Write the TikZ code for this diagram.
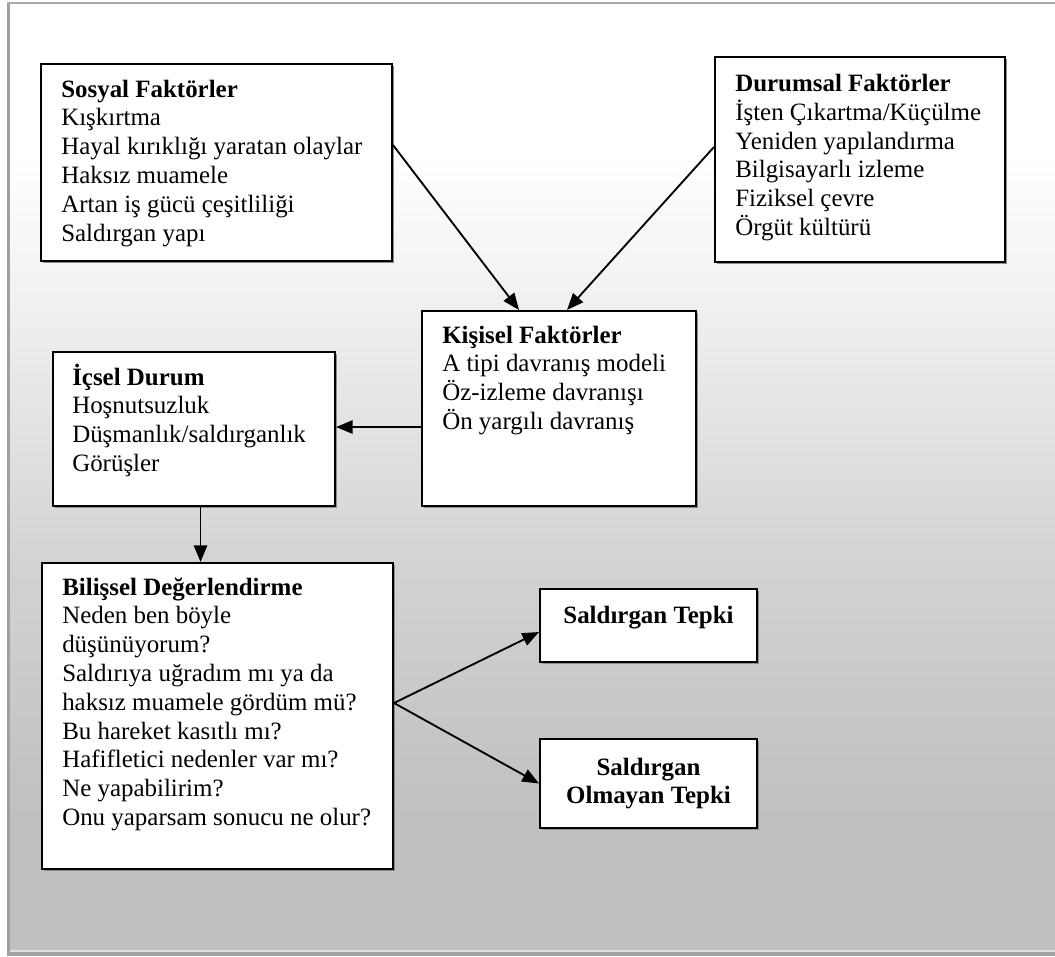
\documentclass[tikz,border=0pt]{standalone}
\usepackage{fontspec}
\setmainfont{Liberation Serif}
\usetikzlibrary{arrows.meta,fit,shadows}

\definecolor{bgA}{HTML}{F0F0F0}
\definecolor{bgB}{HTML}{D2D2D2}
\definecolor{bgC}{HTML}{C0C0C0}
\definecolor{frameGray}{HTML}{A0A0A0}

% vertical page shading: the path is mapped onto 25bp..75bp
\pgfdeclareverticalshading{pagebg}{100bp}{%
  color(0bp)=(bgC); color(25bp)=(bgC); color(32bp)=(bgC);
  color(45bp)=(bgB); color(59bp)=(bgA); color(67bp)=(white);
  color(75bp)=(white); color(100bp)=(white)}

\newcommand\lines[1]{\begin{tabular}[t]{@{}l@{}}#1\end{tabular}}
\newcommand\clines[1]{\begin{tabular}[t]{@{}c@{}}#1\end{tabular}}

\begin{document}
\begin{tikzpicture}[x=0.75pt,y=-0.75pt,
  box/.style={draw=black, line width=1.5pt, fill=white, inner sep=0pt,
    drop shadow={shadow xshift=1.5pt, shadow yshift=-1.5pt, fill=black!45, opacity=1}},
  arr/.style={-{Triangle[length=12.5pt,width=10pt]}, line width=1.4pt},
  lbl/.style={inner sep=0pt, anchor=base west, font=\fontsize{18.7}{21.6}\selectfont},
  clbl/.style={inner sep=0pt, anchor=base, font=\fontsize{18.7}{21.6}\selectfont\bfseries}]

\useasboundingbox (0,0) rectangle (1055,956);
\fill[white] (0,0) rectangle (1055,956);

% page background and frame
\shade[shading=pagebg] (10,4) rectangle (1055,950);
\fill[frameGray] (7,2) rectangle (10,952);
\fill[black!33] (7,2) rectangle (1055,4);
\fill[black!12] (10,950) rectangle (1055,951.5);
\fill[frameGray] (7,952) rectangle (1055,956);

% boxes
\node[box, fit={(41,64) (392,261)}] (sos) {};
\node[box, fit={(715,57) (1005,262)}] (dur) {};
\node[box, fit={(422,311) (696,506)}] (kis) {};
\node[box, fit={(53,352) (335,506)}] (ice) {};
\node[box, fit={(42,563) (393,869)}] (bil) {};
\node[box, fit={(540,589) (757,662)}] (st) {};
\node[box, fit={(540,739) (757,828)}] (ot) {};

% box texts
\node[lbl] (sosT) at (61,97) {\lines{\textbf{Sosyal Faktörler}\\Kışkırtma\\Hayal kırıklığı yaratan olaylar\\Haksız muamele\\Artan iş gücü çeşitliliği\\Saldırgan yapı}};
\node[lbl] (durT) at (735,91) {\lines{\textbf{Durumsal Faktörler}\\İşten Çıkartma/Küçülme\\Yeniden yapılandırma\\Bilgisayarlı izleme\\Fiziksel çevre\\Örgüt kültürü}};
\node[lbl] (kisT) at (442,343) {\lines{\textbf{Kişisel Faktörler}\\A tipi davranış modeli\\Öz-izleme davranışı\\Ön yargılı davranış}};
\node[lbl] (iceT) at (72,385) {\lines{\textbf{İçsel Durum}\\Hoşnutsuzluk\\Düşmanlık/saldırganlık\\Görüşler}};
\node[lbl] (bilT) at (62,595) {\lines{\textbf{Bilişsel Değerlendirme}\\Neden ben böyle\\düşünüyorum?\\Saldırıya uğradım mı ya da\\haksız muamele gördüm mü?\\Bu hareket kasıtlı mı?\\Hafifletici nedenler var mı?\\Ne yapabilirim?\\Onu yaparsam sonucu ne olur?}};
\node[clbl] (stT) at (648.5,623) {Saldırgan Tepki};
\node[clbl] (otT) at (648.5,775) {\clines{Saldırgan\\Olmayan Tepki}};

% connectors
\draw[arr] ([yshift=13.1pt]sos.east) -- ([xshift=-30pt]kis.north);
\draw[arr] ([yshift=9.4pt]dur.west) -- ([xshift=6pt]kis.north);
\draw[arr] ([yshift=-13.9pt]kis.west) coordinate (kw) -- (kw -| ice.east);
\draw[arr] ([xshift=4.9pt]ice.south) coordinate (is) -- (is |- bil.north);
\draw[arr] ([yshift=9.75pt]bil.east) coordinate (be) -- ([yshift=-4.9pt]st.west);
\draw[arr] (be) -- (ot.west);
\end{tikzpicture}
\end{document}
